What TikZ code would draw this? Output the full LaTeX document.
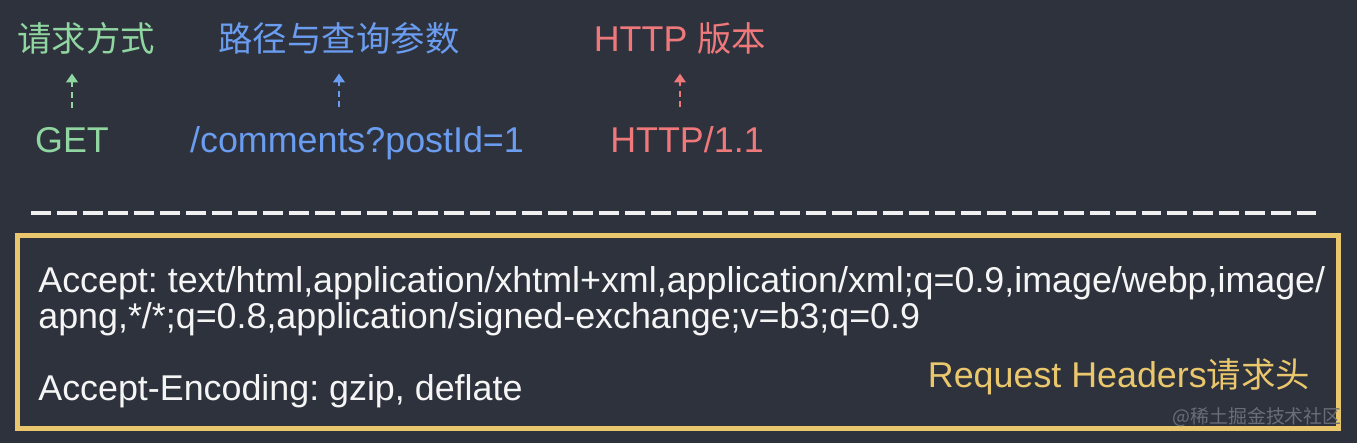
\documentclass[tikz,border=0pt]{standalone}
\usepackage{xcolor}
\usepackage{fontspec}
\setmainfont{Liberation Sans}
\newfontfamily\cjk[Scale=0.96]{Noto Sans CJK SC}
\usepackage{tikz}
\usetikzlibrary{arrows.meta}
\frenchspacing
\definecolor{bgdark}{RGB}{46,50,61}
\definecolor{methodgreen}{RGB}{144,214,160}
\definecolor{pathblue}{RGB}{106,156,240}
\definecolor{versionred}{RGB}{238,120,122}
\definecolor{headeryellow}{RGB}{234,199,108}
\definecolor{markgray}{RGB}{104,109,120}
\tikzstyle{tag} = [inner sep=0pt, font=\fontsize{20.4}{20.7}\selectfont]
\tikzstyle{hdr} = [tag, text=white!96!black, align=left]
\tikzstyle{hint} = [line width=1.4pt, dash pattern=on 3.4pt off 2.6pt,
    -{Triangle[length=5pt,width=6.5pt]}, shorten <=10.5pt, shorten >=11pt]

\begin{document}
\begin{tikzpicture}[x=0.02cm,y=-0.02cm]
\useasboundingbox (0,0) rectangle (1357,443);
\fill[bgdark] (0,0) rectangle (1357,443);

\node[tag, text=methodgreen, anchor=base] (method) at (86,51) {\cjk 请求方式};
\node[tag, text=pathblue, anchor=base] (pathlabel) at (339,51) {\cjk 路径与查询参数};
\node[tag, text=versionred, anchor=base] (verlabel) at (680,51) {HTTP {\cjk 版本}};

\node[tag, text=methodgreen, anchor=base] (get) at (72,152) {GET};
\node[tag, text=pathblue, anchor=base] (pathval) at (357,152) {/comments?postId=1};
\node[tag, text=versionred, anchor=base] (verval) at (687,152) {HTTP/1.1};

\draw[hint, methodgreen] (get.north) -- (get.north |- method.south);
\draw[hint, pathblue] (pathlabel.south |- pathval.north) -- (pathlabel.south);
\draw[hint, versionred] (verlabel.south |- verval.north) -- (verlabel.south);

\draw[white!94!black, line width=2pt, dash pattern=on 11.3pt off 3.4pt]
    (31,213) -- (1322,213);

\draw[headeryellow, line width=2.9pt] (17.5,235.5) rectangle (1338.5,428.5);

\node[hdr, anchor=base west] (accept) at (38,328.5)
    {Accept: text/html,application/xhtml+xml,application/xml;q=0.9,image/webp,image/\\
     apng,*/*;q=0.8,application/signed-exchange;v=b3;q=0.9};
\node[hdr, anchor=base west] (encoding) at (38,400) {Accept-Encoding: gzip, deflate};
\node[tag, text=headeryellow, anchor=base] (reqhead) at (1119,387)
    {Request Headers{\cjk 请求头}};
\node[inner sep=0pt, text=markgray, font=\fontsize{11.2}{12}\cjk, anchor=base east]
    (mark) at (1342,423) {@稀土掘金技术社区};
\end{tikzpicture}
\end{document}
